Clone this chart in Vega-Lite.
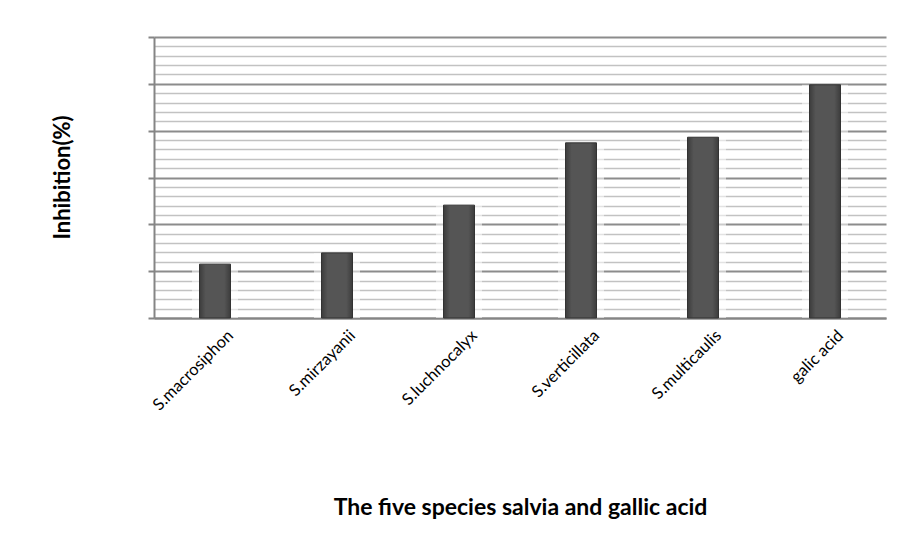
{
  "$schema": "https://vega.github.io/schema/vega-lite/v6.json",
  "width": 732,
  "height": 281,
  "autosize": {"type": "none"},
  "padding": {"left": 154, "top": 37, "right": 15, "bottom": 228},
  "background": "white",
  "config": {
    "view": {"stroke": null},
    "font": "Lato",
    "axis": {"labelFontSize": 16.5, "titleFontSize": 22, "labelFont": "Lato", "titleFont": "Lato"}
  },
  "data": {
    "values": [
      {"species": "S.macrosiphon", "inhibition": 11.5},
      {"species": "S.mirzayanii", "inhibition": 13.9},
      {"species": "S.luchnocalyx", "inhibition": 24.1},
      {"species": "S.verticillata", "inhibition": 37.4},
      {"species": "S.multicaulis", "inhibition": 38.6},
      {"species": "galic acid", "inhibition": 49.8}
    ]
  },
  "encoding": {
    "x": {
      "field": "species",
      "type": "nominal",
      "sort": null,
      "scale": {"paddingInner": 0.746, "paddingOuter": 0.373},
      "axis": {
        "title": "The five species salvia and gallic acid",
        "titleFontSize": 23,
        "titleFontWeight": "bold",
        "titleColor": "#000000",
        "titleX": 366,
        "titleY": 189,
        "titleBaseline": "middle",
        "labelAngle": -45,
        "labelAlign": "right",
        "labelBaseline": "top",
        "labelFontSize": 16.5,
        "labelColor": "#000000",
        "labelPadding": 9,
        "labelOffset": 10,
        "ticks": false,
        "domainColor": "#858585",
        "domainWidth": 2,
        "grid": false
      }
    },
    "y": {
      "field": "inhibition",
      "type": "quantitative",
      "scale": {"domain": [0, 60], "nice": false},
      "axis": {
        "title": "Inhibition(%)",
        "titleFontSize": 22,
        "titleFontWeight": "bold",
        "titleColor": "#000000",
        "titleX": -92,
        "titleY": 140,
        "titleBaseline": "middle",
        "titleAlign": "center",
        "titleAngle": -90,
        "labels": false,
        "values": [0,2,4,6,8,10,12,14,16,18,20,22,24,26,28,30,32,34,36,38,40,42,44,46,48,50,52,54,56,58,60],
        "grid": true,
        "gridColor": {"condition": {"test": "datum.value % 10 === 0", "value": "#8c8c8c"}, "value": "#c2c2c2"},
        "gridWidth": {"condition": {"test": "datum.value % 10 === 0", "value": 2}, "value": 1.5},
        "tickSize": 6,
        "tickColor": "#858585",
        "tickWidth": 2,
        "tickOpacity": {"condition": {"test": "datum.value % 10 === 0", "value": 1}, "value": 0},
        "domainColor": "#858585",
        "domainWidth": 2
      }
    }
  },
  "layer": [
    {
      "mark": {"type": "bar", "size": 46, "fill": "white", "opacity": 0.55}
    },
    {
      "mark": {
        "type": "bar",
        "size": 31,
        "stroke": "#333333",
        "strokeWidth": 1,
        "fill": {
          "gradient": "linear",
          "x1": 0, "x2": 1, "y1": 0, "y2": 0,
          "stops": [
            {"offset": 0, "color": "#3c3c3c"},
            {"offset": 0.2, "color": "#555555"},
            {"offset": 0.8, "color": "#555555"},
            {"offset": 1, "color": "#3c3c3c"}
          ]
        }
      }
    }
  ]
}
